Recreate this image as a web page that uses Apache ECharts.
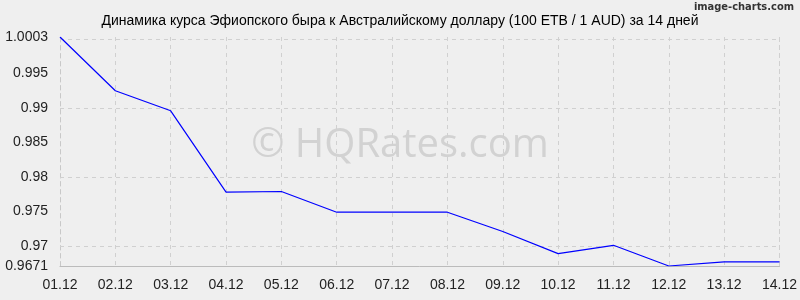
<!DOCTYPE html>
<html><head><meta charset="utf-8">
<script src="https://cdn.jsdelivr.net/npm/echarts@6/dist/echarts.min.js"></script>
<style>html,body{margin:0;padding:0;background:#efefef}#c{width:800px;height:300px}</style>
</head><body><div id="c"></div>
<script>
const categories = ['01.12','02.12','03.12','04.12','05.12','06.12','07.12','08.12','09.12','10.12','11.12','12.12','13.12','14.12'];
const rates = [1.0003,0.9925,0.9896,0.9778,0.9779,0.9749,0.9749,0.9749,0.9721,0.9689,0.9701,0.9671,0.9677,0.9677];
const yTicks = [0.9671,0.97,0.975,0.98,0.985,0.99,0.995,1.0003];
const yMin = 0.9671, yMax = 1.0003;
const titleText = 'Динамика курса Эфиопского быра к Австралийскому доллару (100 ETB / 1 AUD) за 14 дней';

const gridLineStyle = {color: '#d0d0d0', type: [4,4], width: 1};
const chart = echarts.init(document.getElementById('c'));
chart.setOption({
  backgroundColor: '#efefef',
  animation: false,
  title: [{
    text: titleText, left: 'center', top: 9,
    textStyle: {fontFamily: 'Liberation Sans, Arial', fontSize: 14, fontWeight: 'normal', color: '#000'}
  }],
  graphic: [
    {type:'text', right: 6, top: 2, style:{text:'image-charts.com', font:'bold 11px "DejaVu Sans Condensed", "DejaVu Sans"', fill:'#333'}},
    {type:'text', left: 'center', top: 126, z: -1, style:{text:'© HQRates.com', font:'40px "Open Sans", "Liberation Sans"', fill:'#d2d2d2'}}
  ],
  grid: {left: 60, right: 20, top: 37, bottom: 34, containLabel: false},
  xAxis: {
    type: 'category', data: categories, boundaryGap: false,
    axisLine: {show: true, lineStyle: {color: '#bbb'}},
    axisTick: {show: false},
    axisLabel: {fontFamily: 'Liberation Sans, Arial', fontSize: 14, color: '#222', margin: 12, interval: 0},
    splitLine: {show: true, lineStyle: gridLineStyle}
  },
  yAxis: {
    type: 'value', min: yMin, max: yMax,
    axisLine: {show: true, lineStyle: {color: '#c8c8c8', type: [4,4]}},
    axisTick: {show: false, customValues: yTicks},
    axisLabel: {customValues: yTicks, fontFamily: 'Liberation Sans, Arial', fontSize: 14, color: '#222', margin: 12,
      formatter: v => String(+v.toFixed(4))},
    splitLine: {show: false}
  },
  series: [{
    type: 'line', data: [], z: 1,
    markLine: {
      silent: true, symbol: 'none', label: {show: false}, lineStyle: gridLineStyle,
      data: yTicks.slice(1).map(v => ({yAxis: v})).concat([{xAxis: categories[categories.length-1]}])
    }
  }, {
    type: 'line', data: rates, symbol: 'none', z: 5,
    lineStyle: {color: '#0000ff', width: 1.2}
  }]
});
</script></body></html>
